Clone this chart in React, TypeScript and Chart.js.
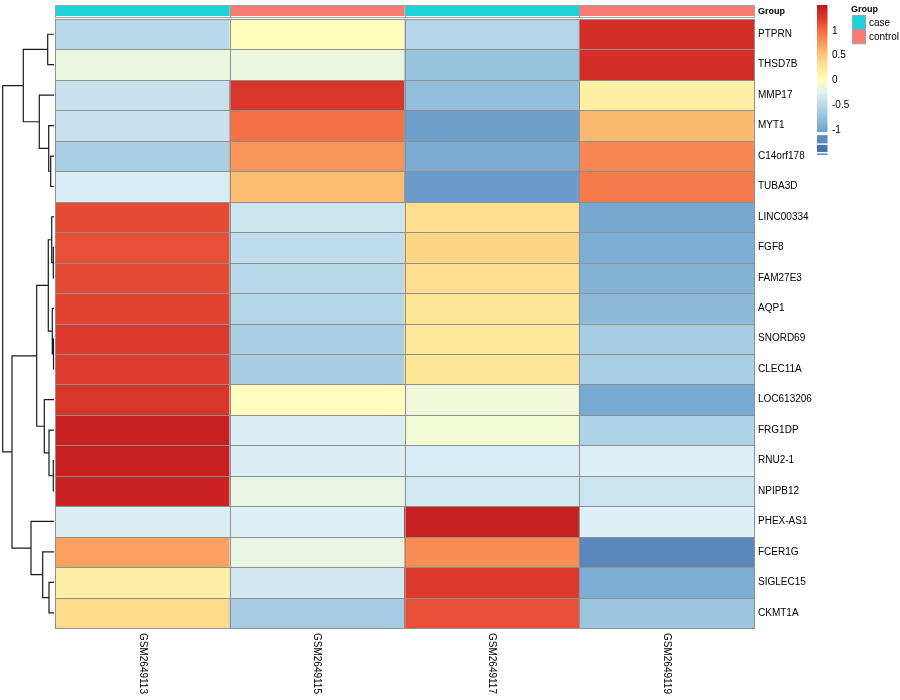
import React, { useEffect, useRef } from "react";
import { Chart, registerables } from "chart.js";

Chart.register(...registerables);

// ---- data ----
const samples = ["GSM2649113", "GSM2649115", "GSM2649117", "GSM2649119"];
const groups = ["case", "control", "case", "control"];
const genes = [
  "PTPRN", "THSD7B", "MMP17", "MYT1", "C14orf178", "TUBA3D", "LINC00334", "FGF8",
  "FAM27E3", "AQP1", "SNORD69", "CLEC11A", "LOC613206", "FRG1DP", "RNU2-1", "NPIPB12",
  "PHEX-AS1", "FCER1G", "SIGLEC15", "CKMT1A",
];
const zGSM2649113 = [-0.5, -0.15, -0.4, -0.4, -0.6, -0.28, 1.17, 1.14, 1.17, 1.2, 1.25, 1.24, 1.29, 1.45, 1.46, 1.44, -0.27, 0.72, 0.18, 0.36];
const zGSM2649115 = [0.02, -0.15, 1.28, 0.97, 0.78, 0.56, -0.37, -0.45, -0.5, -0.52, -0.6, -0.62, 0.01, -0.27, -0.27, -0.17, -0.25, -0.17, -0.33, -0.63];
const zGSM2649117 = [-0.52, -0.72, -0.78, -1.05, -0.95, -1.07, 0.32, 0.4, 0.33, 0.29, 0.26, 0.27, -0.11, -0.1, -0.28, -0.31, 1.46, 0.82, 1.26, 1.14];
const zGSM2649119 = [1.34, 1.34, 0.18, 0.58, 0.85, 0.93, -0.98, -0.93, -0.88, -0.82, -0.63, -0.6, -0.97, -0.57, -0.26, -0.37, -0.25, -1.2, -0.93, -0.7];
const columnValues = [zGSM2649113, zGSM2649115, zGSM2649117, zGSM2649119];

// row dendrogram (hclust style: negative = leaf number, positive = earlier merge)
const mergeLeft = [-11, -8, -15, -10, -7, -5, -14, -19, -4, 5, -1, -13, -18, -3, 10, -17, 11, 15, 17];
const mergeRight = [-12, -9, -16, 1, 2, -6, 3, -20, 6, 4, -2, 7, 8, 9, 12, 13, 14, 16, 18];
const mergeHeight = [0.5, 0.7, 0.7, 1.7, 2.3, 3.3, 5.0, 5.0, 5.3, 5.7, 6.3, 9.7, 11.3, 14.7, 17.3, 23, 30.7, 42, 51.3];

const legendTicks = [1, 0.5, 0, -0.5, -1];
const groupNames = ["case", "control"];

// ---- styles ----
const stopValues = [-1.5, -1.2, -1.0, -0.75, -0.5, -0.25, 0, 0.25, 0.5, 0.75, 1.0, 1.25, 1.5];
const stopColors = ["#3D68AD", "#5B87BC", "#74A6CF", "#95C1DC", "#B8D8EA", "#DDF0F5", "#FFFFBF", "#FEE99A", "#FDC878", "#FA9A5E", "#F46D43", "#DC3A2D", "#C41A1F"];
const groupColors: Record<string, string> = { case: "#1DD2D9", control: "#F87A71" };
const FONT = "'Liberation Sans', Arial, Helvetica, sans-serif";
const BORDER = "#8f8f8f";

function hexToRgb(h: string) {
  const n = parseInt(h.slice(1), 16);
  return [(n >> 16) & 255, (n >> 8) & 255, n & 255];
}
function colorFor(v: number) {
  if (v <= stopValues[0]) return stopColors[0];
  const last = stopValues.length - 1;
  if (v >= stopValues[last]) return stopColors[last];
  let i = 0;
  while (v > stopValues[i + 1]) i++;
  const t = (v - stopValues[i]) / (stopValues[i + 1] - stopValues[i]);
  const a = hexToRgb(stopColors[i]);
  const b = hexToRgb(stopColors[i + 1]);
  const c = a.map((x, k) => Math.round(x + (b[k] - x) * t));
  return `rgb(${c[0]},${c[1]},${c[2]})`;
}

const decorPlugin = {
  id: "heatDecor",
  afterDatasetsDraw(chart: any) {
    const ctx = chart.ctx as CanvasRenderingContext2D;
    const { left, right, top, bottom } = chart.chartArea;
    const xs = chart.scales.x;
    const ys = chart.scales.y;
    const colW = (right - left) / samples.length;
    ctx.save();

    // cell borders
    ctx.strokeStyle = BORDER;
    ctx.lineWidth = 1;
    chart.data.datasets.forEach((_: any, di: number) => {
      const meta = chart.getDatasetMeta(di);
      meta.data.forEach((el: any) => {
        const p = el.getProps(["x", "y", "base", "width"], true);
        const l = Math.round(p.x - p.width / 2);
        const r = Math.round(p.x + p.width / 2);
        const t = Math.round(Math.min(p.y, p.base));
        const b = Math.round(Math.max(p.y, p.base));
        ctx.strokeRect(l + 0.5, t + 0.5, r - l, b - t);
      });
    });

    // annotation bar
    const aTop = top - 13.5;
    const aH = 10.5;
    samples.forEach((_, c) => {
      const cx = xs.getPixelForValue(c);
      ctx.fillStyle = groupColors[groups[c]];
      ctx.fillRect(cx - colW / 2, aTop, colW, aH);
    });
    ctx.strokeStyle = "#a0a0a0";
    samples.forEach((_, c) => {
      const cx = xs.getPixelForValue(c);
      const l = Math.round(cx - colW / 2);
      const r = Math.round(cx + colW / 2);
      ctx.strokeRect(l + 0.5, Math.round(aTop) - 0.5, r - l, Math.round(aH) + 1);
    });
    ctx.fillStyle = "#000";
    ctx.font = `bold 9px ${FONT}`;
    ctx.textAlign = "left";
    ctx.textBaseline = "middle";
    ctx.fillText("Group", right + 4, aTop + aH / 2 + 0.5);

    // column labels (rotated clockwise)
    ctx.font = `10px ${FONT}`;
    samples.forEach((s, c) => {
      const cx = xs.getPixelForValue(c);
      ctx.save();
      ctx.translate(cx, bottom + 5);
      ctx.rotate(Math.PI / 2);
      ctx.textAlign = "left";
      ctx.textBaseline = "middle";
      ctx.fillText(s, 0, 0);
      ctx.restore();
    });

    // dendrogram
    const leafX = left - 1;
    const unit = (leafX - 2.7) / mergeHeight[mergeHeight.length - 1];
    const nodeY: number[] = [];
    const nodeX: number[] = [];
    const pos = (ref: number) => {
      if (ref < 0) return { x: leafX, y: ys.getPixelForValue(-ref - 1 + 0.5) };
      return { x: nodeX[ref - 1], y: nodeY[ref - 1] };
    };
    ctx.strokeStyle = "#1a1a1a";
    ctx.lineWidth = 1.2;
    ctx.beginPath();
    mergeHeight.forEach((h, m) => {
      const a = pos(mergeLeft[m]);
      const b = pos(mergeRight[m]);
      const x = leafX - h * unit;
      ctx.moveTo(a.x, a.y);
      ctx.lineTo(x, a.y);
      ctx.lineTo(x, b.y);
      ctx.lineTo(b.x, b.y);
      nodeX[m] = x;
      nodeY[m] = (a.y + b.y) / 2;
    });
    ctx.stroke();

    // color legend
    const lx = 817;
    const lw = 10.5;
    const vy = (v: number) => 80.5 - 49.7 * v;
    const vTop = 1.52;
    const vSmoothBottom = -1.03;
    for (let y = vy(vTop); y < vy(vSmoothBottom); y += 1) {
      const v = (80.5 - (y + 0.5)) / 49.7;
      ctx.fillStyle = colorFor(v);
      ctx.fillRect(lx, y, lw, 1.05);
    }
    ctx.fillStyle = colorFor(-1.18);
    ctx.fillRect(lx, vy(-1.1), lw, vy(-1.265) - vy(-1.1));
    ctx.fillStyle = colorFor(-1.38);
    ctx.fillRect(lx, vy(-1.295), lw, vy(-1.44) - vy(-1.295));
    ctx.fillStyle = colorFor(-1.5);
    ctx.fillRect(lx, vy(-1.47), lw, 1.2);

    ctx.fillStyle = "#000";
    ctx.font = `10px ${FONT}`;
    ctx.textAlign = "left";
    ctx.textBaseline = "middle";
    legendTicks.forEach((t) => {
      ctx.fillText(String(t), 832, vy(t));
    });

    // group legend
    ctx.font = `bold 9px ${FONT}`;
    ctx.fillText("Group", 851, 9.5);
    ctx.font = `10px ${FONT}`;
    groupNames.forEach((g, i) => {
      const y0 = 15 + i * 14.3;
      ctx.fillStyle = groupColors[g];
      ctx.fillRect(852.5, y0, 13, 14.3);
      ctx.strokeStyle = "#a0a0a0";
      ctx.lineWidth = 1;
      ctx.strokeRect(852.5, y0 + 0.5, 13, 14);
      ctx.fillStyle = "#000";
      ctx.fillText(g, 869, y0 + 8);
    });

    ctx.restore();
  },
};

export default function App() {
  const ref = useRef<HTMLCanvasElement | null>(null);
  useEffect(() => {
    document.body.style.margin = "0";
    const canvas = ref.current;
    if (!canvas) return;
    const datasets = genes.map((g, r) => ({
      label: g,
      data: samples.map(() => [r, r + 1]),
      backgroundColor: columnValues.map((col) => colorFor(col[r])),
      borderWidth: 0,
      borderSkipped: false,
      grouped: false,
      categoryPercentage: 1,
      barPercentage: 1,
    }));
    const chart = new Chart(canvas, {
      type: "bar",
      data: { labels: samples, datasets: datasets as any },
      options: {
        responsive: false,
        animation: false,
        layout: { padding: { left: 55, top: 19, right: 0, bottom: 72 } },
        plugins: { legend: { display: false }, tooltip: { enabled: false } },
        scales: {
          x: { display: false, offset: true, grid: { display: false } },
          y: {
            type: "linear",
            position: "right",
            min: 0,
            max: genes.length,
            reverse: true,
            grid: { display: false, drawTicks: false },
            border: { display: false },
            afterFit: (scale: any) => {
              scale.width = 146;
            },
            afterBuildTicks: (scale: any) => {
              scale.ticks = genes.map((_, i) => ({ value: i + 0.5 }));
            },
            ticks: {
              autoSkip: false,
              padding: 4,
              color: "#000",
              font: { family: FONT, size: 10 },
              callback: (_v: any, i: number) => genes[i],
            },
          },
        },
      },
      plugins: [decorPlugin],
    });
    return () => chart.destroy();
  }, []);
  return (
    <div style={{ width: 900, height: 700 }}>
      <canvas ref={ref} width={900} height={700} />
    </div>
  );
}
